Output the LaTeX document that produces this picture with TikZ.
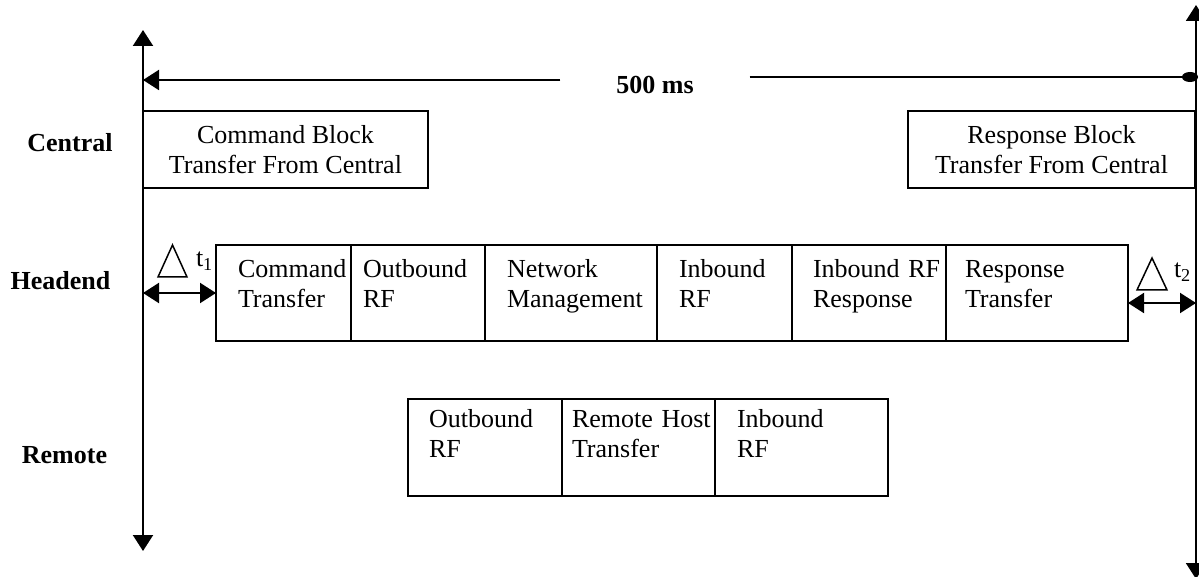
\documentclass[tikz,border=0pt]{standalone}
\usepackage{fontspec}
\setmainfont{Liberation Serif}
\usetikzlibrary{arrows.meta,positioning}
\hyphenpenalty=10000
\exhyphenpenalty=10000

\begin{document}
\begin{tikzpicture}[x=0.5pt, y=-0.5pt, line width=1pt,
	>={Triangle[length=8pt, width=10pt]},
	font=\fontsize{13}{15}\selectfont,
	row/.style = {font=\fontsize{13}{15}\selectfont\bfseries},
	block/.style = {draw, minimum height=38.5pt, align=center, inner sep=0pt},
	cell/.style = {draw, align=left, outer sep=0pt, inner xsep=11pt, inner ysep=0pt, text height=16.5pt, text depth=31.5pt},
	rcell/.style = {draw, align=left, outer sep=0pt, inner xsep=10.5pt, inner ysep=0pt, text height=14pt, text depth=34.5pt},
	delta/.style = {line width=0.75pt}]
\useasboundingbox (0,0) rectangle (1199,577);

% time axes
\coordinate (ltop) at (143,30);
\coordinate (lbot) at (143,551);
\coordinate (rtop) at (1196,5);
\coordinate (rbot) at (1196,579);
\draw[<->] (ltop) -- (lbot);
\draw[<->] (rtop) -- (rbot);

% 500 ms span
\coordinate (aL) at (143,80);
\coordinate (aR) at (1198,77);
\node[row, inner xsep=27.5pt] (dur) at (655,85) {500 ms};
\draw[->] (dur.west |- aL) -- (aL);
\draw[-{Ellipse[length=8pt, width=5pt]}] (dur.east |- aR) -- (aR);

% row names
\node[row, anchor=base] (central) at (70,152) {Central};
\node[row, anchor=base] (headend) at (60.5,290) {Headend};
\node[row, anchor=base] (remote) at (64.5,463) {Remote};

% central
\node[block, minimum width=142.5pt] (cmd) at (285.5,149.5) {Command Block\\Transfer From Central};
\node[block, minimum width=143.5pt] (resp) at (1051.5,149.5) {Response Block\\Transfer From Central};

% headend
\node[cell, text width=45.5pt, anchor=west] (c1) at (216,293) {Command\\Transfer};
\node[cell, text width=55pt, inner xsep=6pt] (c2) [right=0pt of c1] {Outbound\\RF};
\node[cell, text width=64pt] (c3) [right=0pt of c2] {Network\\Management};
\node[cell, text width=45.5pt] (c4) [right=0pt of c3] {Inbound\\RF};
\node[cell, text width=56pt, inner xsep=10.5pt] (c5) [right=0pt of c4] {\mbox{Inbound RF}\\Response};
\node[cell, text width=72pt, inner xsep=9.5pt] (c6) [right=0pt of c5] {Response\\Transfer};

% remote
\node[rcell, text width=56pt, anchor=west] (r1) at (408,447.5) {Outbound\\RF};
\node[rcell, text width=66.5pt, inner xsep=5pt] (r2) [right=0pt of r1] {\mbox{Remote Host}\\Transfer};
\node[rcell, text width=64.5pt, inner xsep=11pt] (r3) [right=0pt of r2] {Inbound\\RF};

% delays
\draw[<->] (c1.west -| ltop) -- (c1.west);
\draw[<->] ([yshift=-5pt]c6.east) -- ([yshift=-5pt]c6.east -| rtop);
\draw[delta] (172.5,245) -- (187,277) -- (158,277) -- cycle;
\draw[delta] (1152,258) -- (1167,290) -- (1137,290) -- cycle;
\node[anchor=base west, inner sep=0pt] (t1) at (195,267) {t\textsubscript{1}};
\node[anchor=base west, inner sep=0pt] (t2) at (1173,278) {t\textsubscript{2}};
\end{tikzpicture}
\end{document}
